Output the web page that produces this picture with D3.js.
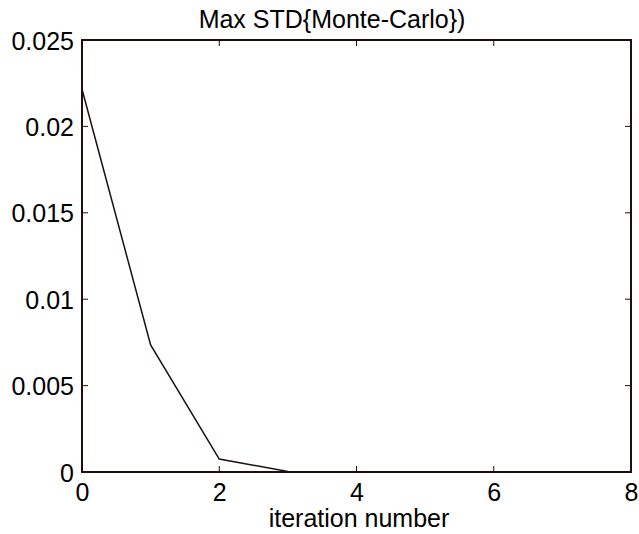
<!DOCTYPE html>
<html><head><meta charset="utf-8">
<script src="https://cdn.jsdelivr.net/npm/d3@7"></script>
<style>body{margin:0;background:#fff}svg{display:block}</style>
</head><body><svg id="c" width="639" height="534"></svg>
<script>
const iterations = [0, 1, 2, 3, 4, 5, 6, 7, 8];
const maxStd = [0.02215, 0.00735, 0.00075, 0.00003, 0.0, 0.0, 0.0, 0.0, 0.0];
const xTicks = [0, 2, 4, 6, 8];
const yTicks = [0, 0.005, 0.01, 0.015, 0.02, 0.025];
const yTickLabels = ["0", "0.005", "0.01", "0.015", "0.02", "0.025"];
const title = "Max STD{Monte-Carlo})";
const xLabel = "iteration number";

const svg = d3.select("#c");
const L = 82, R = 631, T = 40, B = 472;
const col = "#1e0e0e";
const font = "Liberation Sans, Arial, sans-serif";
const fs = 25;
const x = d3.scaleLinear().domain([0, 8]).range([L, R]);
const y = d3.scaleLinear().domain([0, 0.025]).range([B, T]);

const tl = 6;
// axes labels via d3 axes
const ax = d3.axisBottom(x).tickValues(xTicks).tickSize(0).tickPadding(0).tickFormat(d3.format("d"));
const xa = svg.append("g").attr("transform", `translate(0,${B})`).call(ax);
xa.select(".domain").remove();
xa.selectAll("text").attr("font-family", font).attr("font-size", fs).attr("fill", "#000").attr("dy", "0").attr("y", 29);
const ay = d3.axisLeft(y).tickValues(yTicks).tickSize(0).tickPadding(0).tickFormat((d, i) => yTickLabels[i]);
const ya = svg.append("g").attr("transform", `translate(${L},0)`).call(ay);
ya.select(".domain").remove();
ya.selectAll("text").attr("font-family", font).attr("font-size", fs).attr("fill", "#000").attr("x", -8).attr("dy", "0.36em");

// ticks inward on all sides
const tk = svg.append("g").attr("stroke", col).attr("stroke-width", 1);
xTicks.forEach(v => {
  tk.append("line").attr("x1", x(v)).attr("x2", x(v)).attr("y1", B).attr("y2", B - tl);
  tk.append("line").attr("x1", x(v)).attr("x2", x(v)).attr("y1", T).attr("y2", T + tl);
});
yTicks.forEach(v => {
  tk.append("line").attr("x1", L).attr("x2", L + tl).attr("y1", y(v)).attr("y2", y(v));
  tk.append("line").attr("x1", R).attr("x2", R - tl).attr("y1", y(v)).attr("y2", y(v));
});
// box
svg.append("rect").attr("x", L).attr("y", T).attr("width", R - L).attr("height", B - T)
  .attr("fill", "none").attr("stroke", col).attr("stroke-width", 2);

// line
svg.append("path").datum(iterations.map((d, i) => [d, maxStd[i]]))
  .attr("fill", "none").attr("stroke", col).attr("stroke-width", 1.5)
  .attr("d", d3.line().x(d => x(d[0])).y(d => y(d[1])));

svg.append("text").attr("x", 332).attr("y", 28).attr("text-anchor", "middle")
  .attr("font-family", font).attr("font-size", fs).text(title);
svg.append("text").attr("x", 359).attr("y", 527).attr("text-anchor", "middle")
  .attr("font-family", font).attr("font-size", fs).text(xLabel);
</script></body></html>
